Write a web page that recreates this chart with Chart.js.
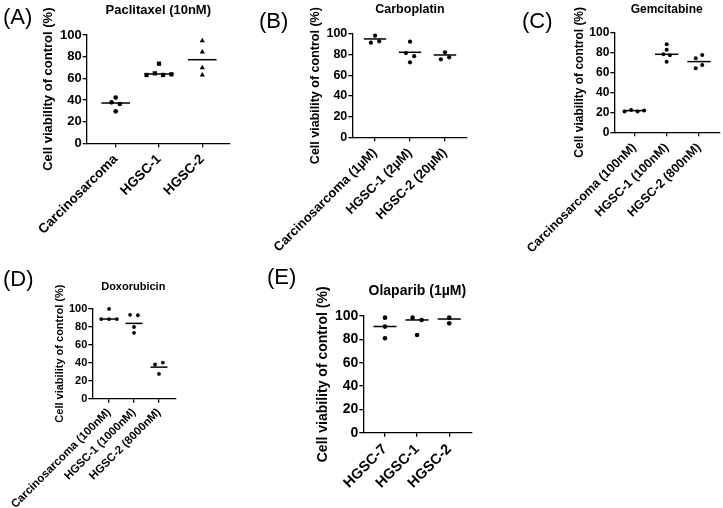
<!DOCTYPE html>
<html><head><meta charset="utf-8">
<script src="https://cdn.jsdelivr.net/npm/chart.js@4.4.1/dist/chart.umd.min.js"></script>
<style>
body{margin:0;background:#fff;width:723px;height:508px;position:relative;overflow:hidden;font-family:"Liberation Sans",Arial,sans-serif;}
canvas{position:absolute;}
.lbl{position:absolute;font-size:22px;line-height:1;color:#000;white-space:nowrap;}
.ttl{position:absolute;font-weight:bold;line-height:1;color:#000;white-space:nowrap;transform:translateX(-50%);}
</style></head><body>
<script>
// ---- data ----
const yTicks = [0, 20, 40, 60, 80, 100];
const yTitle = 'Cell viability of control (%)';

const paclitaxelCategories = ['Carcinosarcoma', 'HGSC-1', 'HGSC-2'];
const paclitaxelValues = [[42.2, 37.8, 36.3, 29.5], [63.1, 64.6, 63.1, 63.7, 73.5], [94.8, 84.3, 69.8, 63.1]];
const paclitaxelLines = [37.2, 64.0, 77.2];

const carboplatinCategories = ['Carcinosarcoma (1µM)', 'HGSC-1 (2µM)', 'HGSC-2 (20µM)'];
const carboplatinValues = [[98.4, 91.6, 92.9], [92.6, 81.5, 78.5, 72.6], [82.3, 75.5, 77.4]];
const carboplatinLines = [95.2, 82.3, 79.7];

const gemcitabineCategories = ['Carcinosarcoma (100nM)', 'HGSC-1 (100nM)', 'HGSC-2 (800nM)'];
const gemcitabineValues = [[20.7, 22.3, 20.7, 21.7], [88.0, 82.5, 78.0, 77.0, 70.5], [74.0, 77.3, 64.0, 67.3]];
const gemcitabineLines = [21.7, 78.0, 70.7];

const doxorubicinCategories = ['Carcinosarcoma (100nM)', 'HGSC-1 (1000nM)', 'HGSC-2 (8000nM)'];
const doxorubicinValues = [[99.5, 88.3, 88.3, 88.3], [93.0, 92.5, 79.5, 73.0], [38.0, 40.0, 27.5]];
const doxorubicinLines = [88.3, 83.5, 35.0];

const olaparibCategories = ['HGSC-7', 'HGSC-1', 'HGSC-2'];
const olaparibValues = [[98.6, 90.9, 80.9], [98.6, 96.6, 83.7], [98.6, 93.7]];
const olaparibLines = [91.0, 96.6, 97.4];

// ---- layout / style ----
const panels = [
  {letter:'(A)', letterPos:[3,5.5], title:'Paclitaxel (10nM)', titlePos:[158.3,3], titleFont:13,
   cats:paclitaxelCategories, vals:paclitaxelValues, lines:paclitaxelLines,
   box:[86.7,35,230,143.3], xr:[-0.67,2.64], font:13, labelFont:13.5, wy:46.5,
   shapes:['circle','rect','triangle'], radius:[2.3,3.0,3.0], d:8.3, hw:0.33, lpad:4},
  {letter:'(B)', letterPos:[259,10], title:'Carboplatin', titlePos:[410,3], titleFont:12.5,
   cats:carboplatinCategories, vals:carboplatinValues, lines:carboplatinLines,
   box:[352.3,34,466.7,137.3], xr:[-0.65,2.62], font:12.5, labelFont:13, wy:44.5,
   shapes:['circle','circle','circle'], radius:[2.1,2.1,2.1], d:8.3, hw:0.32, lpad:4},
  {letter:'(C)', letterPos:[522,10], title:'Gemcitabine', titlePos:[666.7,3], titleFont:12,
   cats:gemcitabineCategories, vals:gemcitabineValues, lines:gemcitabineLines,
   box:[614.3,32.3,720,132.3], xr:[-0.62,2.65], font:12, labelFont:12.5, wy:42,
   shapes:['circle','circle','circle'], radius:[2.0,2.0,2.0], d:6.5, hw:0.36, lpad:4},
  {letter:'(D)', letterPos:[3,267.5], title:'Doxorubicin', titlePos:[133.3,281], titleFont:11,
   cats:doxorubicinCategories, vals:doxorubicinValues, lines:doxorubicinLines,
   box:[92.3,308.5,175.7,398.7], xr:[-0.67,2.67], font:11, labelFont:11.4, wy:38.9,
   shapes:['circle','circle','circle'], radius:[1.9,1.9,1.9], d:7.8, hw:0.34, lpad:3},
  {letter:'(E)', letterPos:[267,266], title:'Olaparib (1µM)', titlePos:[417.3,283], titleFont:14,
   cats:olaparibCategories, vals:olaparibValues, lines:olaparibLines,
   box:[363.3,316,471.7,432.7], xr:[-0.675,2.70], font:14, labelFont:14.5, wy:48.7,
   shapes:['circle','circle','circle'], radius:[2.3,2.3,2.3], d:9, hw:0.36, lpad:4}
];

const swarm = {
  id:'swarm',
  afterDatasetsUpdate(chart){
    const o = chart.options.plugins.swarm;
    chart.data.datasets.forEach((ds,i)=>{
      const meta = chart.getDatasetMeta(i);
      if (meta.type !== 'scatter') return;
      const els = meta.data;
      const idx = els.map((e,j)=>j).sort((a,b)=>els[a].y-els[b].y);
      const groups=[]; let cur=[];
      idx.forEach(j=>{
        if (cur.length && els[j].y - els[cur[cur.length-1]].y >= o.thr) { groups.push(cur); cur=[]; }
        cur.push(j);
      });
      if (cur.length) groups.push(cur);
      groups.forEach(g=>{
        g.sort((a,b)=>a-b);
        g.forEach((j,k)=>{ els[j].x += (k-(g.length-1)/2)*o.d; });
      });
    });
  }
};

panels.forEach(p=>{
  const [L,T,R,B] = p.box;
  const padLtarget = 120, padT0 = 50, padR0 = 4, hx0 = 150;
  const cl = Math.floor(L - p.wy - padLtarget);
  const padL = L - p.wy - cl;
  const ct = Math.floor(T - padT0);
  const padT = T - ct;
  const cw = Math.ceil(padL + p.wy + (R-L) + padR0);
  const padR = cw - (padL + p.wy + (R-L));
  const ch = Math.ceil(padT + (B-T) + hx0);
  const hx = ch - padT - (B-T);

  const cv = document.createElement('canvas');
  cv.width = cw; cv.height = ch;
  cv.style.left = cl+'px'; cv.style.top = ct+'px';
  cv.style.width = cw+'px'; cv.style.height = ch+'px';
  document.body.appendChild(cv);

  const lt = document.createElement('div');
  lt.className='lbl'; lt.textContent=p.letter;
  lt.style.left=p.letterPos[0]+'px'; lt.style.top=p.letterPos[1]+'px';
  document.body.appendChild(lt);
  const tt = document.createElement('div');
  tt.className='ttl'; tt.textContent=p.title;
  tt.style.fontSize=p.titleFont+'px';
  tt.style.left=p.titlePos[0]+'px'; tt.style.top=p.titlePos[1]+'px';
  document.body.appendChild(tt);

  const datasets=[];
  p.vals.forEach((arr,ci)=>{
    datasets.push({type:'scatter', data:arr.map(v=>({x:ci,y:v})),
      pointStyle:p.shapes[ci], pointRadius:p.radius[ci], pointHoverRadius:p.radius[ci],
      backgroundColor:'#000', borderColor:'#000', borderWidth:0, clip:false});
  });
  p.lines.forEach((v,ci)=>{
    datasets.push({type:'line', data:[{x:ci-p.hw,y:v},{x:ci+p.hw,y:v}],
      borderColor:'#000', borderWidth:1.5, pointRadius:0, fill:false, clip:false});
  });

  const fontBold = s=>({family:'"Liberation Sans", Arial, sans-serif', size:s, weight:'bold'});
  new Chart(cv.getContext('2d'), {
    data:{datasets},
    plugins:[swarm],
    options:{
      responsive:false, animation:false, devicePixelRatio:1,
      events:[],
      layout:{padding:{left:padL, top:padT, right:padR, bottom:0}},
      plugins:{legend:{display:false}, tooltip:{enabled:false}, title:{display:false},
        swarm:{d:p.d, thr:4.2}},
      scales:{
        x:{type:'linear', position:'bottom', min:p.xr[0], max:p.xr[1],
          afterBuildTicks:s=>{ s.ticks = p.cats.map((c,i)=>({value:i})); },
          afterFit:s=>{ s.height=hx; s.paddingLeft=0; s.paddingRight=0; s.paddingTop=0; s.paddingBottom=0; },
          border:{display:true, color:'#000', width:1.3},
          grid:{display:true, drawOnChartArea:false, drawTicks:true, tickLength:4, color:'#000', lineWidth:1.3},
          ticks:{autoSkip:false, minRotation:45, maxRotation:45, padding:p.lpad, color:'#000',
            font:fontBold(p.labelFont), callback:(v)=>p.cats[Math.round(v)]}
        },
        y:{type:'linear', position:'left', min:0, max:100,
          afterBuildTicks:s=>{ s.ticks = yTicks.map(v=>({value:v})); },
          afterFit:s=>{ s.width=p.wy; s.paddingLeft=0; s.paddingRight=0; s.paddingTop=0; s.paddingBottom=0; },
          border:{display:true, color:'#000', width:1.3},
          grid:{display:true, drawOnChartArea:false, drawTicks:true, tickLength:4, color:'#000', lineWidth:1.3},
          ticks:{padding:1, color:'#000', font:fontBold(p.font)},
          title:{display:true, text:yTitle, color:'#000', font:fontBold(p.font), padding:{top:0,bottom:0}}
        }
      }
    }
  });
});
</script>
</body></html>
